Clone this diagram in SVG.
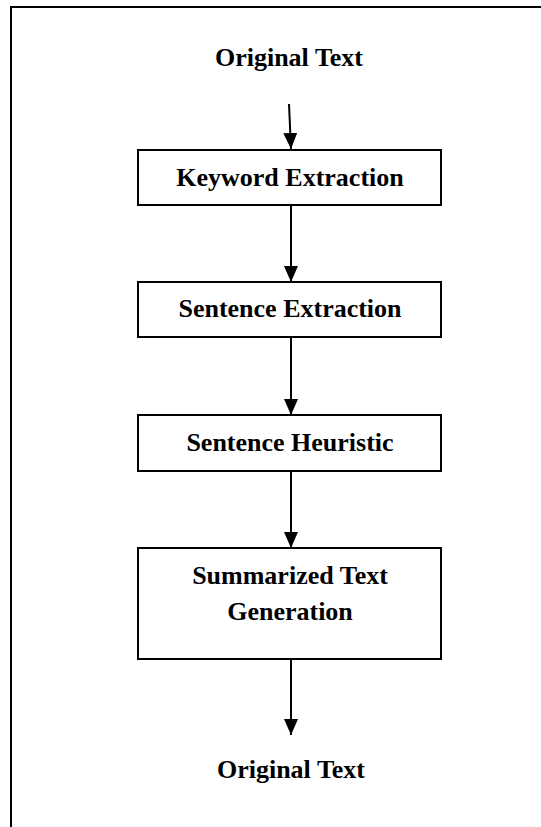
<svg xmlns="http://www.w3.org/2000/svg" width="541" height="827" viewBox="0 0 541 827">
<style>
.box{fill:#fff;stroke:#000;stroke-width:2}
.t{font-family:"Liberation Serif","Times New Roman",serif;font-weight:bold;font-size:26px;text-anchor:middle;fill:#000}
.c{stroke:#000;stroke-width:2;fill:none}
</style>
<defs>
<marker id="ah" markerWidth="16" markerHeight="14" refX="16" refY="7" orient="auto" markerUnits="userSpaceOnUse" viewBox="0 0 16 14">
<path d="M0,0 L16,7 L0,14 Z" fill="#000"/>
</marker>
</defs>
<rect x="11" y="7" width="540" height="830" fill="#fff" stroke="#000" stroke-width="2"/>
<g id="connectors">
<path class="c" d="M289,104 L291,149" marker-end="url(#ah)"/>
<path class="c" d="M291,205 L291,282" marker-end="url(#ah)"/>
<path class="c" d="M291,337 L291,415" marker-end="url(#ah)"/>
<path class="c" d="M291,471 L291,548" marker-end="url(#ah)"/>
<path class="c" d="M291,659 L291,735" marker-end="url(#ah)"/>
</g>
<g id="original-text-top"><text class="t" x="289" y="66">Original Text</text></g>
<g id="keyword-extraction"><rect class="box" x="138" y="150" width="303" height="55"/><text class="t" x="290" y="186">Keyword Extraction</text></g>
<g id="sentence-extraction"><rect class="box" x="138" y="282" width="303" height="55"/><text class="t" x="290" y="317">Sentence Extraction</text></g>
<g id="sentence-heuristic"><rect class="box" x="138" y="415" width="303" height="56"/><text class="t" x="290" y="451">Sentence Heuristic</text></g>
<g id="summarized-text-generation"><rect class="box" x="138" y="548" width="303" height="111"/><text class="t" x="290" y="584">Summarized Text</text><text class="t" x="290" y="620">Generation</text></g>
<g id="original-text-bottom"><text class="t" x="291" y="778">Original Text</text></g>
</svg>
